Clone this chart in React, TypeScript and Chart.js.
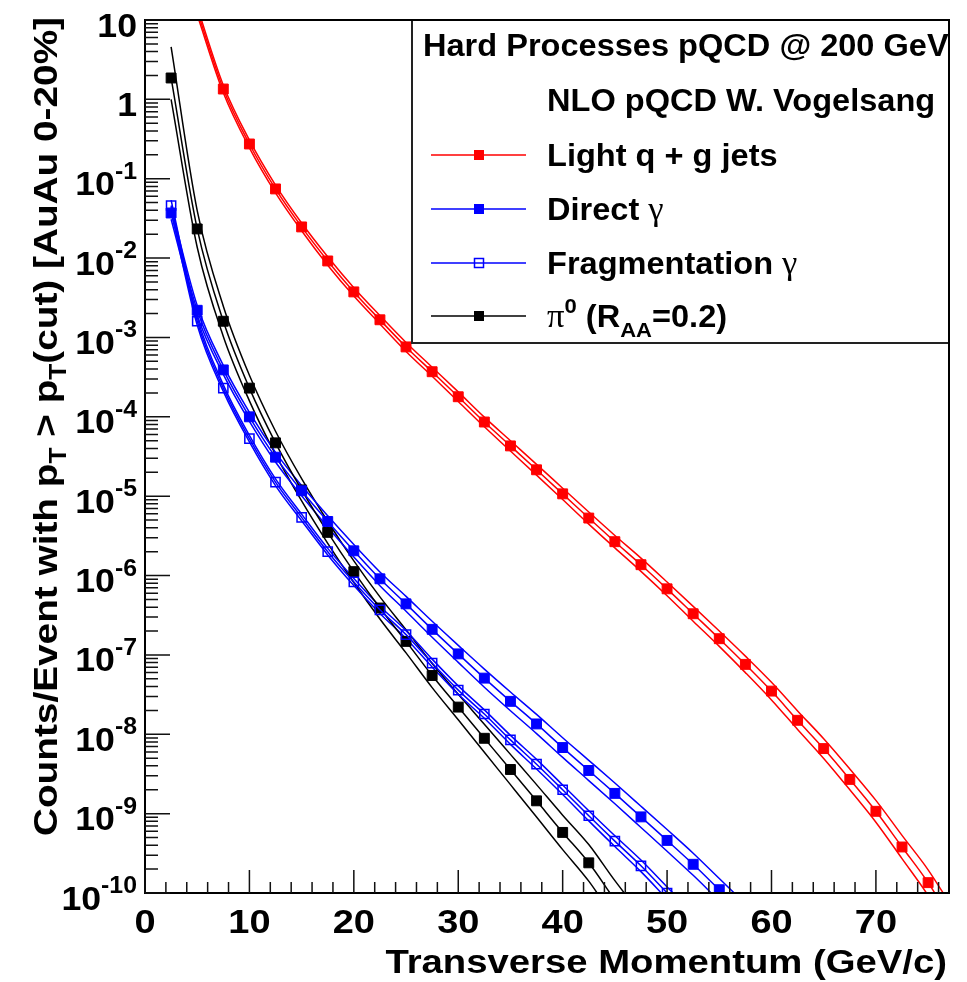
import { useEffect, useRef } from "react";
import { Chart, registerables } from "chart.js";

Chart.register(...registerables);

// ---------------- data ----------------
const ptJets = [5, 7.5, 10, 12.5, 15, 17.5, 20, 22.5, 25, 27.5, 30, 32.5, 35, 37.5, 40, 42.5, 45, 47.5, 50, 52.5, 55, 57.5, 60, 62.5, 65, 67.5, 70, 72.5, 75, 77.5];
const jetsCenter = [13, 1.35, 0.274, 0.0744, 0.0247, 0.0092, 0.00375, 0.00167, 7.6e-4, 3.7e-4, 1.79e-4, 8.6e-5, 4.3e-5, 2.15e-5, 1.07e-5, 5.3e-6, 2.67e-6, 1.37e-6, 6.8e-7, 3.3e-7, 1.6e-7, 7.6e-8, 3.5e-8, 1.5e-8, 6.6e-9, 2.7e-9, 1.07e-9, 3.8e-10, 1.35e-10, 4e-11];
const jetsUpper = [14.6, 1.51, 0.307, 0.0833, 0.0277, 0.0104, 0.00424, 0.00189, 8.66e-4, 4.22e-4, 2.06e-4, 9.9e-5, 4.99e-5, 2.52e-5, 1.26e-5, 6.31e-6, 3.2e-6, 1.66e-6, 8.3e-7, 4.09e-7, 2.0e-7, 9.65e-8, 4.52e-8, 1.97e-8, 8.78e-9, 3.65e-9, 1.47e-9, 5.32e-10, 1.96e-10, 6e-11];
const jetsLower = [11.6, 1.21, 0.245, 0.0664, 0.0221, 0.00814, 0.00332, 0.00148, 6.67e-4, 3.25e-4, 1.56e-4, 7.48e-5, 3.71e-5, 1.84e-5, 9.07e-6, 4.45e-6, 2.23e-6, 1.13e-6, 5.57e-7, 2.66e-7, 1.28e-7, 5.98e-8, 2.71e-8, 1.15e-8, 4.96e-9, 2.0e-9, 7.8e-10, 2.71e-10, 9.3e-11, 2.67e-11];

const ptDirect = [2.5, 5, 7.5, 10, 12.5, 15, 17.5, 20, 22.5, 25, 27.5, 30, 32.5, 35, 37.5, 40, 42.5, 45, 47.5, 50, 52.5, 55, 57.5];
const directCenter = [0.037, 2.2e-3, 3.9e-4, 1.0e-4, 3.1e-5, 1.17e-5, 4.8e-6, 2.05e-6, 9.1e-7, 4.4e-7, 2.1e-7, 1.03e-7, 5.1e-8, 2.6e-8, 1.35e-8, 6.8e-9, 3.5e-9, 1.8e-9, 9.1e-10, 4.6e-10, 2.3e-10, 1.1e-10, 5.3e-11];
const directUpper = [0.0444, 2.53e-3, 4.45e-4, 1.14e-4, 3.57e-5, 1.36e-5, 5.66e-6, 2.46e-6, 1.11e-6, 5.46e-7, 2.65e-7, 1.32e-7, 6.63e-8, 3.41e-8, 1.78e-8, 9.04e-9, 4.69e-9, 2.43e-9, 1.24e-9, 6.3e-10, 3.17e-10, 1.52e-10, 7.3e-11];
const directLower = [0.0308, 1.91e-3, 3.42e-4, 8.77e-5, 2.7e-5, 1.01e-5, 4.07e-6, 1.71e-6, 7.46e-7, 3.55e-7, 1.67e-7, 8.05e-8, 3.92e-8, 1.98e-8, 1.02e-8, 5.11e-9, 2.61e-9, 1.33e-9, 6.69e-10, 3.36e-10, 1.67e-10, 7.97e-11, 3.84e-11];

const ptFrag = [2.5, 5, 7.5, 10, 12.5, 15, 17.5, 20, 22.5, 25, 27.5, 30, 32.5, 35, 37.5, 40, 42.5, 45, 47.5, 50, 52.5];
const fragCenter = [0.046, 1.6e-3, 2.3e-4, 5.3e-5, 1.5e-5, 5.4e-6, 2.0e-6, 8.3e-7, 3.7e-7, 1.8e-7, 7.9e-8, 3.6e-8, 1.8e-8, 8.5e-9, 4.2e-9, 2.0e-9, 9.4e-10, 4.5e-10, 2.2e-10, 1.0e-10, 4.6e-11];
const fragUpper = [0.0538, 1.79e-3, 2.53e-4, 5.83e-5, 1.65e-5, 5.94e-6, 2.2e-6, 9.21e-7, 4.11e-7, 2.02e-7, 8.85e-8, 4.07e-8, 2.03e-8, 9.69e-9, 4.83e-9, 2.3e-9, 1.09e-9, 5.27e-10, 2.6e-10, 1.19e-10, 5.52e-11];
const fragLower = [0.0393, 1.43e-3, 2.09e-4, 4.82e-5, 1.36e-5, 4.91e-6, 1.82e-6, 7.48e-7, 3.33e-7, 1.61e-7, 7.05e-8, 3.19e-8, 1.59e-8, 7.46e-9, 3.65e-9, 1.74e-9, 8.1e-10, 3.85e-10, 1.86e-10, 8.4e-11, 3.83e-11];

const ptPi0 = [2.5, 5, 7.5, 10, 12.5, 15, 17.5, 20, 22.5, 25, 27.5, 30, 32.5, 35, 37.5, 40, 42.5, 45, 47.5];
const pi0Center = [1.86, 0.0233, 1.6e-3, 2.3e-4, 4.7e-5, 1.2e-5, 3.5e-6, 1.12e-6, 3.9e-7, 1.48e-7, 5.5e-8, 2.2e-8, 8.9e-9, 3.6e-9, 1.45e-9, 5.8e-10, 2.4e-10, 8.2e-11, 3.0e-11];
const pi0Upper = [4.6, 0.0396, 2.48e-3, 3.34e-4, 6.58e-5, 1.66e-5, 4.8e-6, 1.53e-6, 5.38e-7, 2.07e-7, 7.81e-8, 3.19e-8, 1.34e-8, 5.58e-9, 2.32e-9, 9.57e-10, 4.08e-10, 1.43e-10, 5.4e-11];
const pi0Lower = [1.0, 0.0137, 1.03e-3, 1.59e-4, 3.36e-5, 8.7e-6, 2.55e-6, 8.18e-7, 2.83e-7, 1.06e-7, 3.87e-8, 1.52e-8, 5.93e-9, 2.32e-9, 9.06e-10, 3.52e-10, 1.41e-10, 4.7e-11, 1.7e-11];

const xTickValues = [0, 10, 20, 30, 40, 50, 60, 70];
const yDecadeExponents = [1, 0, -1, -2, -3, -4, -5, -6, -7, -8, -9, -10];
const legendHeader = "Hard Processes pQCD @ 200 GeV";
const legendSubHeader = "NLO pQCD W. Vogelsang";
const seriesNames = ["Light q + g jets", "Direct ", "Fragmentation ", "π"];
const xAxisTitle = "Transverse Momentum (GeV/c)";

const RED = "#ff0000";
const BLUE = "#0000ff";
const BLACK = "#000000";

// ---------------- helpers ----------------
const SANS = '"Liberation Sans", Arial, Helvetica, sans-serif';
const SERIF = '"Liberation Serif", "Times New Roman", serif';

type Seg = { t: string; size: number; serif?: boolean; normal?: boolean; dy?: number };

function segFont(s: Seg) {
  return `${s.normal ? "" : "bold "}${s.size}px ${s.serif ? SERIF : SANS}`;
}

function richWidth(ctx: CanvasRenderingContext2D, segs: Seg[], sx: number) {
  let w = 0;
  for (const s of segs) {
    ctx.font = segFont(s);
    w += ctx.measureText(s.t).width * sx;
  }
  return w;
}

function drawRich(ctx: CanvasRenderingContext2D, segs: Seg[], x: number, y: number, sx: number, align: "left" | "right" | "center" = "left") {
  const w = richWidth(ctx, segs, sx);
  let cx = align === "left" ? x : align === "right" ? x - w : x - w / 2;
  ctx.textAlign = "left";
  ctx.textBaseline = "alphabetic";
  for (const s of segs) {
    ctx.font = segFont(s);
    const sw = ctx.measureText(s.t).width * sx;
    ctx.save();
    ctx.translate(cx, y + (s.dy || 0));
    ctx.scale(sx, 1);
    ctx.fillText(s.t, 0, 0);
    ctx.restore();
    cx += sw;
  }
}

function mkPoints(xs: number[], ys: number[]) {
  return xs.map((x, i) => ({ x, y: ys[i] }));
}

function centerSet(label: string, xs: number[], ys: number[], color: string, open: boolean) {
  return {
    label,
    data: mkPoints(xs, ys),
    borderColor: color,
    borderWidth: 1.5,
    backgroundColor: color,
    pointStyle: "rect" as const,
    pointRadius: open ? 6.5 : 7,
    pointBorderWidth: open ? 1.5 : 1,
    pointBorderColor: color,
    pointBackgroundColor: open ? "rgba(0,0,0,0)" : color,
    cubicInterpolationMode: "monotone" as const,
    clip: 0,
  };
}

function bandSet(label: string, xs: number[], ys: number[], color: string) {
  return {
    label,
    data: mkPoints(xs, ys),
    borderColor: color,
    borderWidth: 1.5,
    pointRadius: 0,
    cubicInterpolationMode: "monotone" as const,
    clip: 0,
  };
}

function drawSquare(ctx: CanvasRenderingContext2D, x: number, y: number, color: string, open: boolean) {
  const h = 5;
  if (open) {
    ctx.strokeStyle = color;
    ctx.lineWidth = 1.5;
    ctx.strokeRect(x - h + 0.5, y - h + 0.5, 2 * h - 1, 2 * h - 1);
  } else {
    ctx.fillStyle = color;
    ctx.fillRect(x - h, y - h, 2 * h, 2 * h);
  }
}

const rootStylePlugin = {
  id: "rootStyle",
  afterDatasetsDraw(chart: any) {
    const { ctx, chartArea: a, scales } = chart;
    const xs = scales.x;
    const ys = scales.y;
    ctx.save();

    // ---- legend box ----
    const lx = 412, ly = a.top, lw = a.right - 412, lh = 343 - a.top;
    ctx.fillStyle = "#ffffff";
    ctx.fillRect(lx, ly, lw, lh);
    ctx.strokeStyle = "#222";
    ctx.lineWidth = 2;
    ctx.strokeRect(lx, ly, lw, lh);

    ctx.fillStyle = "#000";
    drawRich(ctx, [{ t: legendHeader, size: 31 }], 423, 56, 1.05);
    drawRich(ctx, [{ t: legendSubHeader, size: 31 }], 547, 111, 1.05);

    const rows = [155, 209, 263, 316];
    const colors = [RED, BLUE, BLUE, BLACK];
    const opens = [false, false, true, false];
    const labels: Seg[][] = [
      [{ t: seriesNames[0], size: 31 }],
      [{ t: seriesNames[1], size: 31 }, { t: "γ", size: 33, serif: true, normal: true }],
      [{ t: seriesNames[2], size: 31 }, { t: "γ", size: 33, serif: true, normal: true }],
      [
        { t: seriesNames[3], size: 33, serif: true, normal: true },
        { t: "0", size: 21, dy: -14 },
        { t: " (R", size: 31 },
        { t: "AA", size: 21, dy: 10 },
        { t: "=0.2)", size: 31 },
      ],
    ];
    rows.forEach((ry, i) => {
      ctx.strokeStyle = colors[i];
      ctx.lineWidth = 1.5;
      ctx.beginPath();
      ctx.moveTo(431, ry);
      ctx.lineTo(526, ry);
      ctx.stroke();
      drawSquare(ctx, 479, ry, colors[i], opens[i]);
      ctx.fillStyle = "#000";
      drawRich(ctx, labels[i], 547, ry + 11, 1.05);
    });

    // ---- frame ----
    ctx.strokeStyle = "#000";
    ctx.lineWidth = 2;
    ctx.strokeRect(a.left, a.top, a.right - a.left, a.bottom - a.top);

    // ---- y ticks (inside) ----
    ctx.lineWidth = 1.5;
    ctx.strokeStyle = "#111";
    const yMin = ys.min, yMax = ys.max;
    ctx.beginPath();
    for (const e of yDecadeExponents) {
      const v = Math.pow(10, e);
      const py = ys.getPixelForValue(v);
      ctx.moveTo(a.left, py);
      ctx.lineTo(a.left + 25, py);
      for (let m = 2; m <= 9; m++) {
        const mv = m * v;
        if (mv > yMax || mv < yMin) continue;
        const pm = ys.getPixelForValue(mv);
        ctx.moveTo(a.left, pm);
        ctx.lineTo(a.left + 13, pm);
      }
    }
    // ---- x ticks (inside) ----
    for (let v = 0; v <= xs.max; v += 2) {
      const px = xs.getPixelForValue(v);
      const major = v % 10 === 0;
      ctx.moveTo(px, a.bottom);
      ctx.lineTo(px, a.bottom - (major ? 23 : 11));
    }
    ctx.stroke();

    // ---- y labels ----
    ctx.fillStyle = "#000";
    for (const e of yDecadeExponents) {
      const py = ys.getPixelForValue(Math.pow(10, e));
      let segs: Seg[];
      if (e === 1) segs = [{ t: "10", size: 33 }];
      else if (e === 0) segs = [{ t: "1", size: 33 }];
      else segs = [{ t: "10", size: 33 }, { t: String(e), size: 23, dy: -16.5 }];
      drawRich(ctx, segs, 137, py + 16.5, 1.08, "right");
    }

    // ---- x labels ----
    for (const v of xTickValues) {
      const px = xs.getPixelForValue(v);
      drawRich(ctx, [{ t: String(v), size: 33 }], px, 933, 1.15, "center");
    }

    // ---- axis titles ----
    drawRich(ctx, [{ t: xAxisTitle, size: 33 }], 947, 973, 1.16, "right");

    ctx.save();
    ctx.translate(57, 0);
    ctx.rotate(-Math.PI / 2);
    const ySegs: Seg[] = [
      { t: "Counts/Event with p", size: 34 },
      { t: "T", size: 23, dy: 9 },
      { t: " > p", size: 34 },
      { t: "T", size: 23, dy: 9 },
      { t: "(cut) [AuAu 0-20%]", size: 34 },
    ];
    drawRich(ctx, ySegs, -17, 0, 1.14, "right");
    ctx.restore();

    ctx.restore();
  },
};

export default function App() {
  const ref = useRef<HTMLCanvasElement>(null);
  useEffect(() => {
    const canvas = ref.current;
    if (!canvas) return;
    const datasets: any[] = [
      centerSet("Light q + g jets", ptJets, jetsCenter, RED, false),
      centerSet("Direct γ", ptDirect, directCenter, BLUE, false),
      centerSet("Fragmentation γ", ptFrag, fragCenter, BLUE, true),
      centerSet("π0", ptPi0, pi0Center, BLACK, false),
      bandSet("jets upper", ptJets, jetsUpper, RED),
      bandSet("jets lower", ptJets, jetsLower, RED),
      bandSet("direct upper", ptDirect, directUpper, BLUE),
      bandSet("direct lower", ptDirect, directLower, BLUE),
      bandSet("frag upper", ptFrag, fragUpper, BLUE),
      bandSet("frag lower", ptFrag, fragLower, BLUE),
      bandSet("pi0 upper", ptPi0, pi0Upper, BLACK),
      bandSet("pi0 lower", ptPi0, pi0Lower, BLACK),
    ];
    const chart = new Chart(canvas, {
      type: "line",
      data: { datasets },
      options: {
        animation: false,
        responsive: true,
        maintainAspectRatio: false,
        devicePixelRatio: 1,
        events: [],
        layout: { padding: { left: 145, right: 18, top: 20, bottom: 89 } },
        plugins: { legend: { display: false }, tooltip: { enabled: false } },
        scales: {
          x: { type: "linear", min: 0, max: 77, display: false },
          y: { type: "logarithmic", min: 1e-10, max: 10, display: false },
        },
      },
      plugins: [rootStylePlugin],
    });
    return () => chart.destroy();
  }, []);
  return (
    <div style={{ position: "absolute", left: 0, top: 0, width: 967, height: 982, background: "#ffffff" }}>
      <canvas ref={ref} />
    </div>
  );
}
